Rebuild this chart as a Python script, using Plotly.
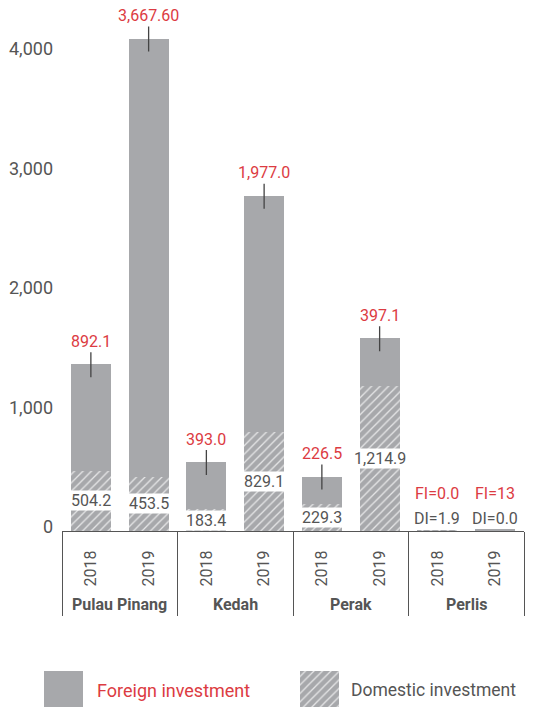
import plotly.graph_objects as go

# Investment by state, 2018 vs 2019 (RM million)
regions = ["Pulau Pinang", "Kedah", "Perak", "Perlis"]
years = ["2018", "2019"]
foreign = [892.1, 3667.6, 393.0, 1977.0, 226.5, 397.1, 0.0, 13.0]
domestic = [504.2, 453.5, 183.4, 829.1, 229.3, 1214.9, 1.9, 0.0]
foreign_labels = ["892.1", "3,667.60", "393.0", "1,977.0", "226.5", "397.1", "FI=0.0", "FI=13"]
domestic_labels = ["504.2", "453.5", "183.4", "829.1", "229.3", "1,214.9", "DI=1.9", "DI=0.0"]
y_ticks = [0, 1000, 2000, 3000, 4000]

GREY = "#a7a8ab"
TEXT = "#555555"
RED = "#dc3b42"
LINE = "#555555"
FONT = "Roboto"

W, H = 534, 707
n = len(regions) * len(years)
xpos = list(range(n))
year_text = [y for _ in regions for y in years]
totals = [f + d for f, d in zip(foreign, domestic)]

hatch = dict(shape="/", fgcolor="#e6e6e7", bgcolor=GREY, size=6, solidity=0.22, fillmode="replace")

fig = go.Figure()
fig.add_trace(go.Bar(
    x=xpos, y=domestic, width=0.69, name="Domestic investment",
    marker=dict(color=GREY, line=dict(width=0), pattern=hatch),
))
fig.add_trace(go.Bar(
    x=xpos, y=foreign, width=0.69, name="Foreign investment",
    marker=dict(color=GREY, line=dict(width=0)),
))

annotations = []
for i in xpos:
    if regions[i // 2] == "Perlis":
        # tiny values: state them above the axis instead of on the bars
        annotations.append(dict(x=i, y=0, xref="x", yref="y", text=foreign_labels[i],
                                showarrow=False, yshift=38,
                                font=dict(family=FONT, size=16, color=RED)))
        annotations.append(dict(x=i, y=0, xref="x", yref="y", text=domestic_labels[i],
                                showarrow=False, yshift=13,
                                font=dict(family=FONT, size=16, color=TEXT)))
        continue
    # foreign value with a leader tick across the bar top
    annotations.append(dict(x=i, y=totals[i], xref="x", yref="y", text=foreign_labels[i],
                            showarrow=True, arrowhead=0, arrowwidth=1.3, arrowcolor="#444444",
                            ax=0, ay=-36, yshift=-13,
                            font=dict(family=FONT, size=16, color=RED)))
    # domestic value on a white band inside the hatched segment
    annotations.append(dict(x=i, y=domestic[i] / 2, xref="x", yref="y", text=domestic_labels[i],
                            showarrow=False, bgcolor="white", borderpad=0,
                            font=dict(family=FONT, size=16, color=TEXT)))

# group names under the year labels
for g, name in enumerate(regions):
    annotations.append(dict(x=2 * g + 0.5, y=(H - 604) / H, xref="x", yref="paper",
                            yanchor="middle", text=f"<b>{name}</b>", showarrow=False,
                            font=dict(family=FONT, size=16, color=TEXT)))

# legend: swatches on a helper axis along the bottom edge
fig.add_trace(go.Bar(x=[63.5], y=[36], width=39, xaxis="x2", yaxis="y2",
                     marker=dict(color=GREY, line=dict(width=0)), showlegend=False, hoverinfo="skip"))
fig.add_trace(go.Bar(x=[319.5], y=[36], width=39, xaxis="x2", yaxis="y2",
                     marker=dict(color=GREY, line=dict(width=0), pattern=hatch),
                     showlegend=False, hoverinfo="skip"))
annotations.append(dict(x=95, y=17, xref="x2", yref="y2", text="Foreign investment",
                        showarrow=False, xanchor="left", yanchor="middle",
                        font=dict(family=FONT, size=18, color=RED)))
annotations.append(dict(x=349, y=17, xref="x2", yref="y2", text="Domestic investment",
                        showarrow=False, xanchor="left", yanchor="middle",
                        font=dict(family=FONT, size=17.5, color=TEXT)))

fig.update_layout(
    template="none",
    width=W, height=H,
    margin=dict(l=0, r=0, t=0, b=0),
    paper_bgcolor="white", plot_bgcolor="rgba(0,0,0,0)",
    barmode="stack", bargap=0,
    showlegend=False,
    font=dict(family=FONT, color=TEXT),
    annotations=annotations,
    xaxis=dict(
        domain=[62 / W, 524 / W], range=[-0.5, n - 0.5], automargin=False,
        tickmode="array", tickvals=xpos, ticktext=year_text, tickangle=-90,
        ticks="", ticklabelstandoff=12,
        tickfont=dict(family=FONT, size=16, color=TEXT),
        showline=True, linecolor=LINE, linewidth=1.3, showgrid=False, zeroline=False,
        minor=dict(tickmode="array", tickvals=[-0.5 + 2 * g for g in range(len(regions) + 1)],
                   ticks="outside", ticklen=84, tickwidth=1.3, tickcolor=LINE, showgrid=False),
        fixedrange=True,
    ),
    yaxis=dict(
        domain=[(H - 531) / H, 1], range=[0, 531 / 119.5 * 1000], automargin=False,
        tickmode="array", tickvals=y_ticks, tickformat=",",
        ticks="", ticklabelstandoff=8, ticklabelshift=-4,
        tickfont=dict(family=FONT, size=18, color=TEXT),
        showline=False, showgrid=False, zeroline=False, fixedrange=True,
    ),
    xaxis2=dict(domain=[0, 1], range=[0, W], anchor="y2", visible=False, fixedrange=True),
    yaxis2=dict(domain=[0, 36 / H], range=[0, 36], anchor="x2", visible=False, fixedrange=True),
)

fig.write_html("out.html", config={"displayModeBar": False})
